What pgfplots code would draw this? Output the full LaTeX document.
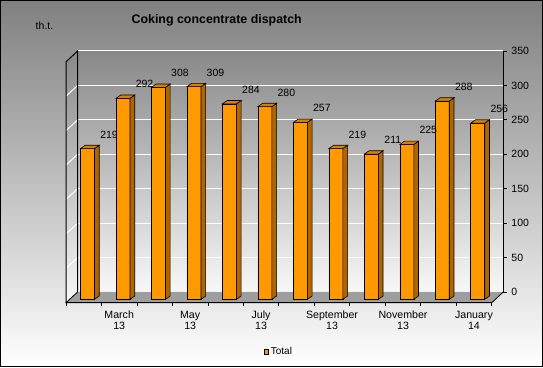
\documentclass[border=0pt]{standalone}
\usepackage{pgfplots}
\usepackage{pgfplotstable}
\pgfplotsset{compat=1.18}
\usepackage{fontspec}
\setmainfont{Liberation Sans}

\definecolor{barfront}{RGB}{255,153,0}
\definecolor{barside}{RGB}{176,102,0}
\definecolor{bartop}{RGB}{214,128,0}
\definecolor{floorgrey}{RGB}{158,158,158}
\definecolor{bgtop}{RGB}{128,128,128}
\definecolor{walltop}{RGB}{136,136,136}
\definecolor{wallbot}{RGB}{248,248,248}

\pgfplotstableread{
x v
0.5 219
1.5 292
2.5 308
3.5 309
4.5 284
5.5 280
6.5 257
7.5 219
8.5 211
9.5 225
10.5 288
11.5 256
}\dispatch

\newcommand{\ys}{0.688286}
\pgfdeclareplotmark{emptymark}{}

\begin{document}
\begin{tikzpicture}[x=1pt,y=1pt]
% outer background
\shade[top color=bgtop, bottom color=white] (0,0) rectangle (543,367);
% left wall
\shade[top color=walltop, bottom color=wallbot] (66,64.3) -- (66,305.2) -- (77.7,316.0) -- (77.7,75.1) -- cycle;
\foreach \v in {50,100,...,300}
  \draw[white, line width=1pt] (66,{64.3+\v*\ys}) -- (77.7,{75.1+\v*\ys});

% back wall with right value axis
\begin{axis}[
  at={(77.7pt,75.1pt)}, anchor=south west,
  scale only axis, width=425.7pt, height=240.9pt,
  xmin=0, xmax=12, ymin=0, ymax=350,
  axis x line=none, axis y line*=right,
  ytick={0,50,...,350},
  ymajorgrids, grid style={white, line width=1pt},
  axis background/.style={shade, top color=walltop, bottom color=wallbot},
  tick align=outside, major tick length=3.5pt,
  tick style={black, line width=0.8pt},
  axis line style={black, line width=1pt},
  yticklabel style={font=\fontsize{10.5}{12}\selectfont, xshift=1pt},
  /pgf/number format/assume math mode=true,
]
\addplot[draw=none] coordinates {(0,0)};
\end{axis}

% floor
\fill[floorgrey] (66,64.3) -- (491.7,64.3) -- (503.4,75.1) -- (77.7,75.1) -- cycle;
\draw[black, line width=0.8pt] (77.7,75.1) -- (66,64.3) -- (491.7,64.3) -- (503.4,75.1);
\draw[black, line width=1pt] (66,64.3) -- (66,305.2) -- (77.7,316.0) -- (77.7,75.1);

% front plane with bars
\begin{axis}[
  at={(66pt,64.3pt)}, anchor=south west,
  scale only axis, width=425.7pt, height=240.9pt,
  xmin=0, xmax=12, ymin=0, ymax=350,
  clip=false,
  axis x line*=bottom, axis y line=none,
  axis line style={black, line width=0.8pt},
  xtick={1.5,3.5,5.5,7.5,9.5,11.5},
  xticklabels={March\\13, May\\13, July\\13, September\\13, November\\13, January\\14},
  xticklabel style={align=center, font=\fontsize{10.6}{11.5}\selectfont, yshift=-4.5pt},
  major tick length=0pt,
  minor xtick={0,1,...,12},
  minor tick length=3.5pt, tick align=outside,
  minor tick style={black, line width=0.8pt},
  /pgf/number format/assume math mode=true,
  legend style={at={(0.5,-0.2026)}, anchor=center, draw=none, fill=none,
    font=\fontsize{10}{11}\selectfont, inner sep=0pt},
]
% side and top faces of the bars
\addplot[forget plot, scatter, only marks, mark=emptymark,
  visualization depends on={\thisrow{v} \as \barval},
  scatter/@pre marker code/.code={%
    \pgfmathsetmacro\hb{3.4-\barval*\ys}%
    \pgfmathsetmacro\hc{\hb+3.3}%
    \filldraw[fill=barside, draw=black, line width=0.6pt] (10.8pt,3.4pt) -- (10.8pt,\hb pt) -- (15.5pt,\hc pt) -- (15.5pt,6.7pt) -- cycle;
    \filldraw[fill=bartop, draw=black, line width=0.6pt] (-3.2pt,3.4pt) -- (10.8pt,3.4pt) -- (15.5pt,6.7pt) -- (1.5pt,6.7pt) -- cycle;
  },
  scatter/@post marker code/.code={},
] table[x=x, y=v] {\dispatch};
% front faces
\addplot[forget plot, ybar, bar width=14pt, bar shift=3.8pt, yshift=3.4pt,
  fill=barfront, draw=black, line width=0.6pt] table[x=x, y=v] {\dispatch};
% value labels
\addplot[forget plot, draw=none, mark=none, nodes near coords,
  every node near coord/.append style={anchor=center, xshift=25.3pt, yshift=17.5pt,
    font=\fontsize{10.5}{12}\selectfont, text=black}] table[x=x, y=v] {\dispatch};
\addlegendimage{legend image code/.code={\draw[fill=barfront, draw=black, line width=0.5pt] (0pt,-2.3pt) rectangle (4.6pt,2.3pt);}}
\addlegendentry{Total}
\end{axis}

% titles
\node[anchor=base, font=\bfseries\fontsize{12.4}{14}\selectfont] at (216.7,343) {Coking concentrate dispatch};
\node[anchor=base, font=\fontsize{10.5}{12}\selectfont] at (44.5,337) {th.t.};
% frame
\draw[black, line width=1pt] (0.5,0.5) rectangle (542.5,366.5);
\end{tikzpicture}
\end{document}
